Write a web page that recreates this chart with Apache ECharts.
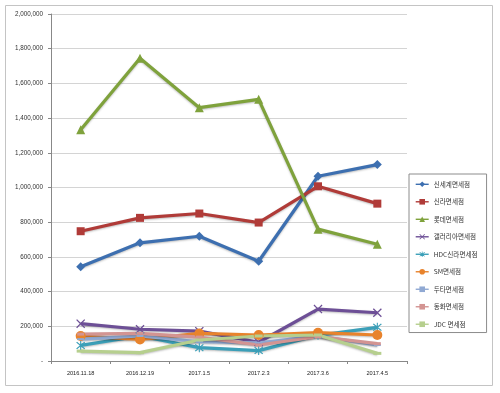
<!DOCTYPE html>
<html>
<head>
<meta charset="utf-8">
<script src="https://cdn.jsdelivr.net/npm/echarts@6/dist/echarts.min.js"></script>
<style>
  html, body { margin: 0; padding: 0; background: #fff; }
  #main { width: 500px; height: 393px; }
</style>
</head>
<body>
<div id="main"></div>
<script>
// 날짜 (x축)
var dates = ['2016.11.18', '2016.12.19', '2017.1.5', '2017.2.3', '2017.3.6', '2017.4.5'];

// 면세점별 값
var shinsegae = [543000, 681000, 719000, 575000, 1065000, 1132000];
var shilla    = [748000, 825000, 850000, 798000, 1007000, 907000];
var lotte     = [1333000, 1745000, 1460000, 1508000, 760000, 673000];
var galleria  = [215000, 183000, 172000, 108000, 299000, 278000];
var hdc       = [90000, 144000, 77000, 60000, 148000, 194000];
var sm        = [144000, 124000, 159000, 150000, 163000, 150000];
var doota     = [126000, 144000, 111000, 105000, 144000, 92000];
var donghwa   = [155000, 159000, 138000, 92000, 140000, 100000];
var jdc       = [57000, 48000, 121000, 144000, 150000, 44000];

var yTicks = [0, 200000, 400000, 600000, 800000, 1000000, 1200000, 1400000, 1600000, 1800000, 2000000];

var xPath = 'path://M0,1 L1,0 L5,4 L9,0 L10,1 L6,5 L10,9 L9,10 L5,6 L1,10 L0,9 L4,5 Z';
var starPath = 'path://M0,1 L1,0 L5,4 L9,0 L10,1 L6,5 L10,9 L9,10 L5,6 L1,10 L0,9 L4,5 Z M4.4,-1 L5.6,-1 L5.6,11 L4.4,11 Z';

function makeSeries(name, data, color, symbol, size) {
  return {
    name: name,
    type: 'line',
    data: data,
    symbol: symbol,
    symbolSize: size,
    showAllSymbol: true,
    lineStyle: {
      color: color,
      width: 3.2,
      shadowColor: 'rgba(0,0,0,0.25)',
      shadowBlur: 2,
      shadowOffsetY: 1
    },
    itemStyle: { color: color },
    emphasis: { disabled: true }
  };
}

var chart = echarts.init(document.getElementById('main'), null, { renderer: 'canvas' });

var option = {
  backgroundColor: '#fff',
  animation: false,
  textStyle: { fontFamily: 'Liberation Sans, Noto Sans CJK KR, sans-serif' },
  graphic: [
    {
      type: 'rect',
      shape: { x: 5.5, y: 5.5, width: 487, height: 380 },
      style: { fill: 'none', stroke: '#c4c4c4', lineWidth: 1 },
      z: -1
    }
  ],
  grid: { left: 51, right: 93, top: 14, bottom: 32 },
  legend: {
    orient: 'vertical',
    left: 409,
    top: 174,
    padding: [7, 9, 5, 6],
    itemGap: 10.9,
    itemWidth: 13,
    itemHeight: 7,
    borderColor: '#8c8c8c',
    borderWidth: 1,
    backgroundColor: '#fff',
    lineStyle: { width: 1.4, shadowBlur: 0, shadowOffsetY: 0, shadowColor: 'transparent' },
    textStyle: { fontSize: 6.6, color: '#333', fontFamily: 'Noto Sans CJK KR, sans-serif' },
    data: ['신세계면세점', '신라면세점', '롯데면세점', '갤러리아면세점', 'HDC신라면세점', 'SM면세점', '두타면세점', '동화면세점', 'JDC 면세점']
  },
  xAxis: {
    type: 'category',
    data: dates,
    boundaryGap: true,
    axisLine: { lineStyle: { color: '#888', width: 1 } },
    axisTick: { show: true, length: 3, lineStyle: { color: '#888' } },
    axisLabel: { fontSize: 5.6, color: '#222', margin: 10 },
    splitLine: { show: false }
  },
  yAxis: {
    type: 'value',
    min: yTicks[0],
    max: yTicks[yTicks.length - 1],
    interval: yTicks[1] - yTicks[0],
    axisLine: { show: true, lineStyle: { color: '#888', width: 1 } },
    axisTick: { show: true, length: 3, lineStyle: { color: '#888' } },
    axisLabel: {
      fontSize: 6.3,
      color: '#333',
      margin: 8,
      formatter: function (v) {
        if (v === 0) return '-';
        return v.toString().replace(/\B(?=(\d{3})+(?!\d))/g, ',');
      }
    },
    splitLine: { show: true, lineStyle: { color: '#d4d4d4', width: 1 } }
  },
  series: [
    makeSeries('신세계면세점', shinsegae, '#3d6fb0', 'diamond', 9),
    makeSeries('신라면세점', shilla, '#b03b38', 'rect', 8),
    makeSeries('롯데면세점', lotte, '#7fa23c', 'triangle', 9),
    makeSeries('갤러리아면세점', galleria, '#6d4f96', xPath, 9),
    makeSeries('HDC신라면세점', hdc, '#3b9fb8', starPath, 9),
    makeSeries('SM면세점', sm, '#e8832c', 'circle', 10),
    makeSeries('두타면세점', doota, '#90a9d3', 'rect', [7, 2]),
    makeSeries('동화면세점', donghwa, '#d39492', 'rect', [7, 3]),
    makeSeries('JDC 면세점', jdc, '#b6cf8e', 'rect', [8, 3])
  ]
};

chart.setOption(option);
</script>
</body>
</html>
